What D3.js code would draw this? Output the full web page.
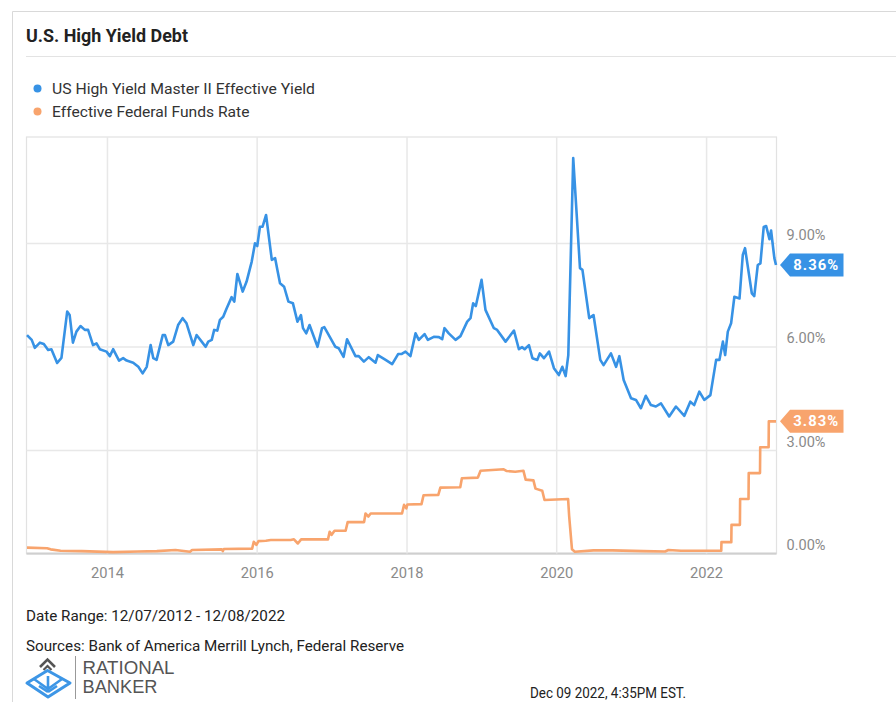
<!DOCTYPE html>
<html>
<head>
<meta charset="utf-8">
<script src="https://cdn.jsdelivr.net/npm/d3@7"></script>
<style>
  html, body { margin: 0; padding: 0; background: #fff; }
  svg { display: block; font-family: Roboto, "Noto Sans", sans-serif; }
</style>
</head>
<body>
<svg id="chart" width="896" height="702"></svg>
<script>
// ---------------- DATA ----------------
const seriesNames = ["US High Yield Master II Effective Yield", "Effective Federal Funds Rate"];

const hyDates = ["2012-12-07","2012-12-30","2013-01-14","2013-02-08","2013-02-27","2013-03-20","2013-04-05","2013-05-03","2013-05-24","2013-06-21","2013-07-03","2013-07-19","2013-08-05","2013-08-25","2013-09-15","2013-10-01","2013-10-25","2013-11-11","2013-11-27","2013-12-30","2014-01-15","2014-01-31","2014-03-01","2014-03-21","2014-04-07","2014-05-09","2014-06-03","2014-06-24","2014-07-14","2014-08-02","2014-08-15","2014-08-31","2014-09-30","2014-10-11","2014-10-27","2014-11-20","2014-12-14","2015-01-05","2015-01-24","2015-02-26","2015-03-14","2015-04-08","2015-04-27","2015-05-10","2015-05-27","2015-06-08","2015-06-23","2015-07-06","2015-07-22","2015-08-08","2015-09-01","2015-09-14","2015-09-29","2015-10-25","2015-11-13","2015-12-08","2015-12-24","2016-01-04","2016-01-17","2016-01-30","2016-02-16","2016-03-15","2016-03-31","2016-04-11","2016-04-24","2016-05-14","2016-06-04","2016-06-26","2016-07-18","2016-08-04","2016-08-14","2016-08-30","2016-09-15","2016-10-24","2016-11-15","2016-11-26","2017-01-19","2017-02-04","2017-02-28","2017-03-17","2017-04-27","2017-05-13","2017-06-07","2017-07-01","2017-08-03","2017-08-14","2017-09-21","2017-10-23","2017-11-21","2017-12-07","2017-12-27","2018-01-20","2018-02-14","2018-03-02","2018-03-30","2018-04-15","2018-05-14","2018-06-08","2018-06-24","2018-07-05","2018-07-26","2018-08-28","2018-09-21","2018-10-24","2018-11-09","2018-11-22","2018-12-05","2019-01-02","2019-01-21","2019-03-03","2019-03-19","2019-04-29","2019-06-09","2019-07-03","2019-07-19","2019-07-31","2019-08-21","2019-09-07","2019-10-01","2019-10-13","2019-11-02","2019-11-27","2019-12-21","2020-01-14","2020-01-31","2020-02-16","2020-02-29","2020-03-24","2020-04-26","2020-05-08","2020-06-10","2020-07-01","2020-08-03","2020-08-19","2020-09-24","2020-10-19","2020-11-04","2020-11-25","2020-12-31","2021-01-24","2021-02-17","2021-03-13","2021-04-07","2021-05-01","2021-05-26","2021-07-05","2021-08-07","2021-09-17","2021-10-16","2021-11-04","2021-11-29","2021-12-23","2022-01-22","2022-02-19","2022-03-07","2022-03-24","2022-04-04","2022-04-17","2022-05-03","2022-05-19","2022-06-13","2022-06-29","2022-07-10","2022-08-12","2022-08-24","2022-09-10","2022-09-23","2022-10-09","2022-10-21","2022-11-06","2022-11-14","2022-11-30","2022-12-08"];
const hyValues = [6.33,6.19,5.96,6.11,6.07,5.90,5.92,5.52,5.67,7.01,6.91,6.11,6.43,6.59,6.48,6.48,6.04,6.09,5.92,5.85,5.72,5.92,5.59,5.66,5.59,5.53,5.41,5.22,5.41,6.04,5.66,5.61,6.33,6.33,6.04,6.14,6.62,6.82,6.67,6.04,6.33,6.14,5.99,6.14,6.19,6.48,6.46,6.77,6.86,7.11,7.43,7.30,8.10,7.59,7.88,8.46,8.99,8.91,9.47,9.47,9.81,8.51,8.56,8.22,7.83,7.73,7.30,7.25,6.72,6.91,6.53,6.38,6.62,5.99,6.53,6.56,5.99,5.95,5.70,6.21,5.72,5.72,5.56,5.69,5.53,5.75,5.61,5.49,5.78,5.78,5.85,5.72,6.38,6.19,6.36,6.19,6.28,6.27,6.21,6.53,6.38,6.19,6.30,6.72,6.82,7.25,7.17,7.93,7.06,6.53,6.48,6.14,6.46,5.92,5.98,5.92,6.04,5.66,5.61,5.80,5.66,5.85,5.37,5.17,5.41,5.14,5.75,11.46,8.27,8.22,6.82,6.91,5.61,5.46,5.80,5.41,5.72,5.03,4.50,4.45,4.21,4.57,4.30,4.26,4.35,3.97,4.26,3.99,4.40,4.30,4.69,4.45,4.59,5.61,5.61,6.14,5.75,6.43,6.67,7.44,7.39,8.65,8.85,7.54,7.46,8.36,8.41,9.46,9.49,9.11,9.36,8.56,8.36];

const ffDates = ["2012-12-07","2013-03-15","2013-04-01","2013-05-20","2013-09-01","2014-01-31","2014-06-01","2014-09-01","2014-12-01","2015-02-10","2015-02-20","2015-07-15","2015-07-20","2015-07-25","2015-12-10","2015-12-18","2015-12-31","2016-01-10","2016-02-15","2016-03-10","2016-06-15","2016-07-01","2016-07-20","2016-08-05","2016-12-14","2016-12-22","2016-12-31","2017-01-15","2017-03-10","2017-03-20","2017-06-08","2017-06-15","2017-06-29","2017-07-10","2017-12-10","2017-12-20","2017-12-31","2018-01-05","2018-03-15","2018-03-25","2018-06-05","2018-06-15","2018-09-20","2018-09-28","2018-12-15","2018-12-28","2019-04-20","2019-05-05","2019-06-15","2019-07-25","2019-08-05","2019-09-12","2019-09-22","2019-10-25","2019-11-05","2020-02-28","2020-03-04","2020-03-18","2020-04-01","2020-07-01","2020-10-01","2021-03-01","2021-06-15","2021-07-01","2021-09-01","2022-03-16","2022-03-17","2022-05-04","2022-05-05","2022-06-15","2022-06-16","2022-07-27","2022-07-28","2022-09-21","2022-09-22","2022-11-02","2022-11-03","2022-12-08"];
const ffValues = [0.17,0.15,0.12,0.08,0.07,0.04,0.06,0.07,0.10,0.05,0.10,0.12,0.07,0.13,0.14,0.34,0.25,0.36,0.37,0.39,0.39,0.41,0.29,0.41,0.41,0.63,0.54,0.66,0.66,0.91,0.91,1.16,1.07,1.16,1.16,1.41,1.31,1.42,1.43,1.69,1.70,1.91,1.92,2.18,2.20,2.40,2.44,2.39,2.37,2.40,2.14,2.12,1.88,1.82,1.55,1.58,1.10,0.12,0.05,0.09,0.09,0.07,0.06,0.10,0.08,0.08,0.33,0.33,0.83,0.83,1.58,1.58,2.33,2.33,3.08,3.08,3.83,3.83];

const xTickYears = [2014, 2016, 2018, 2020, 2022];
const yTickValues = [0, 3, 6, 9];
const dateRange = ["2012-12-07", "2022-12-08"];

// ---------------- SETUP ----------------
const parse = d3.timeParse("%Y-%m-%d");
const hy = hyDates.map((d, i) => ({ date: parse(d), value: hyValues[i] }));
const ff = ffDates.map((d, i) => ({ date: parse(d), value: ffValues[i] }));

const BLUE = "#3792e5";
const ORANGE = "#f8a46d";

const svg = d3.select("#chart");
const plot = { left: 26.5, right: 776.5, top: 137, bottom: 553.5 };

svg.append("rect").attr("width", 896).attr("height", 702).attr("fill", "#fff");

// outer frame (left + top)
svg.append("path").attr("d", "M12.5,702 L12.5,11.5 L896,11.5")
  .attr("fill", "none").attr("stroke", "#d9d9d9").attr("stroke-width", 1);

// title
svg.append("text").attr("x", 26).attr("y", 42)
  .attr("font-size", 17.5).attr("font-weight", 700).attr("fill", "#222")
  .attr("textLength", 162).attr("lengthAdjust", "spacingAndGlyphs")
  .text("U.S. High Yield Debt");
svg.append("line").attr("x1", 26).attr("x2", 896).attr("y1", 56.5).attr("y2", 56.5)
  .attr("stroke", "#e3e3e3").attr("stroke-width", 1);

// legend
const legendColors = [BLUE, ORANGE];
const legendY = [88.5, 111.5];
const legendW = [263, 197.5];
seriesNames.forEach((name, i) => {
  svg.append("circle").attr("cx", 37.5).attr("cy", legendY[i]).attr("r", 4).attr("fill", legendColors[i]);
  svg.append("text").attr("x", 52).attr("y", legendY[i] + 5.6)
    .attr("font-size", 15.5).attr("fill", "#333")
    .attr("textLength", legendW[i]).attr("lengthAdjust", "spacingAndGlyphs")
    .text(name);
});

// scales
const x = d3.scaleTime()
  .domain(dateRange.map(parse))
  .range([27, 776]);
const y = d3.scaleLinear().domain([0, 12.07]).range([plot.bottom, plot.top]);

// plot frame
svg.append("rect")
  .attr("x", plot.left).attr("y", plot.top)
  .attr("width", plot.right - plot.left).attr("height", plot.bottom - plot.top)
  .attr("fill", "none").attr("stroke", "#e2e2e2").attr("stroke-width", 1.2);

// y axis (right) with horizontal grid
const yAxis = d3.axisRight(y)
  .tickValues(yTickValues)
  .tickSize(-(plot.right - plot.left))
  .tickPadding(10)
  .tickFormat(d => d3.format(".2f")(d) + "%");
const gy = svg.append("g").attr("transform", `translate(${plot.right},0)`).call(yAxis);
gy.select(".domain").remove();
gy.selectAll(".tick line").attr("stroke", "#e8e8e8").attr("stroke-width", 1.5);
gy.selectAll(".tick text")
  .attr("y", -8.5).attr("x", 10)
  .attr("fill", "#8a8a8a").attr("font-size", 15)
  .attr("font-family", "Roboto, sans-serif")
  .attr("textLength", 39).attr("lengthAdjust", "spacingAndGlyphs");

// x axis with vertical grid
const xAxis = d3.axisBottom(x)
  .tickValues(xTickYears.map(yr => new Date(yr, 0, 1)))
  .tickSize(-(plot.bottom - plot.top))
  .tickSizeOuter(0)
  .tickPadding(14)
  .tickFormat(d3.timeFormat("%Y"));
const gx = svg.append("g").attr("transform", `translate(0,${plot.bottom})`).call(xAxis);
gx.select(".domain").attr("stroke", "#cfcfcf").attr("stroke-width", 2)
  .attr("d", `M${plot.left},0H${plot.right}`);
gx.selectAll(".tick line").attr("stroke", "#e8e8e8").attr("stroke-width", 1.5);
gx.selectAll(".tick text")
  .attr("fill", "#8a8a8a").attr("font-size", 15)
  .attr("font-family", "Roboto, sans-serif")
  .attr("textLength", 33).attr("lengthAdjust", "spacingAndGlyphs");

// lines
const line = d3.line().x(d => x(d.date)).y(d => y(d.value));
svg.append("path").datum(ff).attr("d", line)
  .attr("fill", "none").attr("stroke", ORANGE).attr("stroke-width", 2.6)
  .attr("stroke-linejoin", "round");
svg.append("path").datum(hy).attr("d", line)
  .attr("fill", "none").attr("stroke", BLUE).attr("stroke-width", 2.6)
  .attr("stroke-linejoin", "round");

// value tags
function tag(series, color) {
  const last = series[series.length - 1];
  const cy = y(last.value);
  const tip = plot.right + 3.5, bx = tip + 10, bw = 53.5, hh = 11.5;
  svg.append("path")
    .attr("d", `M${tip},${cy} L${bx},${cy - hh} L${bx + bw},${cy - hh} L${bx + bw},${cy + hh} L${bx},${cy + hh} Z`)
    .attr("fill", color);
  svg.append("text").attr("x", bx + bw / 2 - 0.5).attr("y", cy + 5)
    .attr("text-anchor", "middle").attr("font-size", 14).attr("font-weight", 700)
    .attr("fill", "#fff").attr("letter-spacing", 1)
    .attr("textLength", 46).attr("lengthAdjust", "spacingAndGlyphs")
    .text(d3.format(".2f")(last.value) + "%");
}
tag(hy, BLUE);
tag(ff, ORANGE);

// footer
svg.append("text").attr("x", 26).attr("y", 621).attr("font-size", 14.5).attr("fill", "#222")
  .attr("textLength", 259).attr("lengthAdjust", "spacingAndGlyphs")
  .text("Date Range: 12/07/2012 - 12/08/2022");
svg.append("text").attr("x", 26).attr("y", 651).attr("font-size", 14.5).attr("fill", "#222")
  .attr("textLength", 378).attr("lengthAdjust", "spacingAndGlyphs")
  .text("Sources: Bank of America Merrill Lynch, Federal Reserve");
svg.append("text").attr("x", 530).attr("y", 698).attr("font-size", 14).attr("fill", "#222")
  .attr("textLength", 156).attr("lengthAdjust", "spacingAndGlyphs")
  .text("Dec 09 2022, 4:35PM EST.");

// logo
const logo = svg.append("g");
logo.append("path").attr("d", "M40,667 L47.5,659.5 L55,667").attr("fill", "none")
  .attr("stroke", "#555").attr("stroke-width", 2.6);
logo.append("path").attr("d", "M43.5,670 L47.5,666 L51.5,670").attr("fill", "none")
  .attr("stroke", "#555").attr("stroke-width", 2.2);
logo.append("path").attr("d", "M47.5,670.5 L70,683 L48,697 L27,683 Z").attr("fill", "none")
  .attr("stroke", "#3d96e6").attr("stroke-width", 3).attr("stroke-linejoin", "round");
logo.append("path").attr("d", "M34,679 L48,689 L62,679 M39,686 L48,692 M57,686 L48,692 M48,676 L48,689")
  .attr("fill", "none").attr("stroke", "#3d96e6").attr("stroke-width", 2.6);
logo.append("line").attr("x1", 75.5).attr("x2", 75.5).attr("y1", 656).attr("y2", 699)
  .attr("stroke", "#999").attr("stroke-width", 1);
logo.append("text").attr("x", 82.5).attr("y", 674).attr("font-family", "'Liberation Sans', Arial, sans-serif")
  .attr("font-size", 18).attr("fill", "#555").attr("textLength", 92).attr("lengthAdjust", "spacingAndGlyphs")
  .text("RATIONAL");
logo.append("text").attr("x", 82.5).attr("y", 693).attr("font-family", "'Liberation Sans', Arial, sans-serif")
  .attr("font-size", 18).attr("fill", "#555").attr("textLength", 75).attr("lengthAdjust", "spacingAndGlyphs")
  .text("BANKER");
</script>
</body>
</html>
